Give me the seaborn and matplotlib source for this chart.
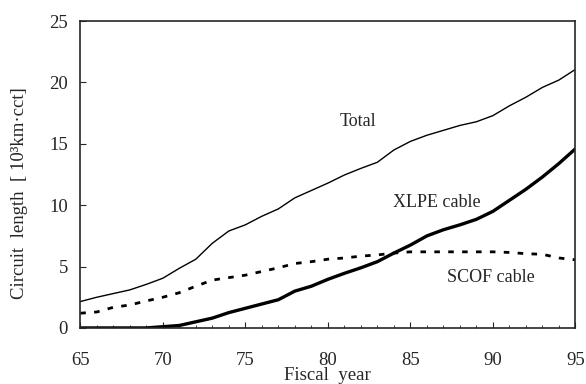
import numpy as np
import pandas as pd
import matplotlib
matplotlib.use("Agg")
import matplotlib.pyplot as plt
import seaborn as sns
from matplotlib.ticker import MultipleLocator

# Fiscal years 1965-1995
years = list(range(65, 96))

total = [2.15, 2.5, 2.8, 3.1, 3.55, 4.05, 4.86, 5.6, 6.9, 7.9, 8.4,
         9.1, 9.7, 10.6, 11.2, 11.8, 12.46, 13.0, 13.5, 14.5, 15.2,
         15.7, 16.1, 16.5, 16.8, 17.3, 18.1, 18.8, 19.6, 20.2, 21.07]

xlpe = [0.0, 0.0, 0.0, 0.0, 0.0, 0.1, 0.2, 0.5, 0.8, 1.25, 1.6,
        1.95, 2.3, 3.0, 3.4, 3.96, 4.45, 4.9, 5.4, 6.1, 6.75,
        7.5, 8.0, 8.4, 8.85, 9.5, 10.4, 11.3, 12.3, 13.4, 14.6]

scof = [1.2, 1.3, 1.68, 1.87, 2.2, 2.5, 2.87, 3.4, 3.9, 4.1, 4.3,
        4.6, 4.9, 5.25, 5.4, 5.6, 5.7, 5.85, 5.95, 6.1, 6.2,
        6.2, 6.2, 6.2, 6.2, 6.2, 6.15, 6.05, 6.0, 5.7, 5.55]

df = pd.DataFrame({"year": years, "Total": total, "XLPE cable": xlpe, "SCOF cable": scof})

sns.set_style("ticks")
plt.rcParams["font.family"] = ["Liberation Serif", "DejaVu Serif"]
plt.rcParams["xtick.direction"] = "in"
plt.rcParams["ytick.direction"] = "in"

fig, ax = plt.subplots(figsize=(5.86, 3.84), dpi=100)
fig.subplots_adjust(left=0.137, right=0.982, top=0.945, bottom=0.146)

sns.lineplot(data=df, x="year", y="Total", ax=ax, color="black", linewidth=1.0)
sns.lineplot(data=df, x="year", y="XLPE cable", ax=ax, color="black", linewidth=2.4)
sns.lineplot(data=df, x="year", y="SCOF cable", ax=ax, color="black", linewidth=2.0,
             linestyle=(0, (2.0, 3.0)))

ax.set_xlim(65, 95)
ax.set_ylim(0, 25)
ax.xaxis.set_major_locator(MultipleLocator(5))
ax.xaxis.set_minor_locator(MultipleLocator(1))
ax.yaxis.set_major_locator(MultipleLocator(5))
ax.tick_params(axis="x", which="major", length=4, width=0.8, pad=17, labelsize=13.5)
ax.tick_params(axis="x", which="minor", length=2, width=0.6)
ax.tick_params(axis="y", which="major", length=4, width=0.8, pad=9, labelsize=13.5)
for s in ax.spines.values():
    s.set_linewidth(1.2)

ax.set_xlabel("Fiscal  year", fontsize=13.5, labelpad=-1)
ax.set_ylabel("Circuit  length  [ 10³km·cct]", fontsize=13.5)
ax.yaxis.set_label_coords(-0.105, 0.44)

ax.text(81.8, 16.8, "Total", fontsize=13, ha="center", va="center")
ax.text(86.6, 10.25, "XLPE cable", fontsize=13, ha="center", va="center")
ax.text(89.9, 4.1, "SCOF cable", fontsize=13, ha="center", va="center")

fig.savefig("out.png", dpi=100)
